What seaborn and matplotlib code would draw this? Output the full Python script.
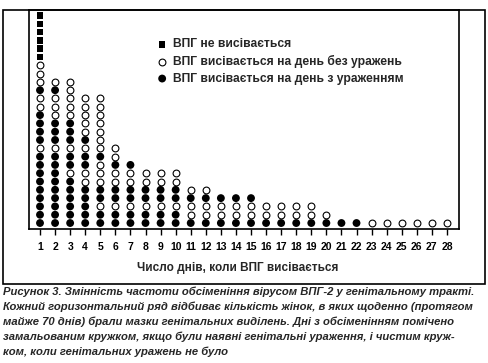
import matplotlib
matplotlib.use("Agg")
import matplotlib.pyplot as plt
import matplotlib.patches as patches
import pandas as pd
import seaborn as sns

W, H = 489, 363

DAYS = list(range(1, 29))
# stack of each day column, bottom -> top
# F = shedding on a day with lesions, O = shedding without lesions, S = not shedding
STACKS = [
    "FFFFFFFFFOFFFFOOFOOOSSSSSS",
    "FFFFFFFFFOFFFOOOFO",
    "FFFFFFOFFOFFFOOOOO",
    "FFFFFOOFFOFOOOOO",
    "FFOFFOOOFOOOOOOO",
    "FFOFFOOFOO",
    "FFOFFOOF",
    "FFOFFOO",
    "FFOFFOO",
    "FFOFFOO",
    "FOOFO",
    "FOOFO",
    "FOOF",
    "FOOF",
    "FOOF",
    "FOO",
    "FOO",
    "FOO",
    "FOO",
    "FO",
    "F",
    "F",
    "O", "O", "O", "O", "O", "O",
]
LABELS = {
    "S": "ВПГ не висівається",
    "O": "ВПГ висівається на день без уражень",
    "F": "ВПГ висівається на день з ураженням",
}
XLABEL = "Число днів, коли ВПГ висівається"
CAPTION = [
    "Рисунок 3. Змінність частоти обсіменіння вірусом ВПГ-2 у генітальному тракті.",
    "Кожний горизонтальний ряд відбиває кількість жінок, в яких щоденно (протягом",
    "майже 70 днів) брали мазки генітальних виділень. Дні з обсіменінням помічено",
    "замальованим кружком, якщо були наявні генітальні ураження, і чистим круж-",
    "ком, коли генітальних уражень не було",
]


def main():
    rows = []
    for day, stack in zip(DAYS, STACKS):
        for i, code in enumerate(stack):
            rows.append({"day": day, "row": i + 1, "status": code})
    df = pd.DataFrame(rows)

    sns.set_theme(style="white")
    plt.rcParams["font.family"] = ["Liberation Sans", "DejaVu Sans"]

    fig = plt.figure(figsize=(W / 100, H / 100), dpi=100)
    ax = fig.add_axes([29 / W, 1 - 229 / H, 430 / W, 219 / H])

    sns.scatterplot(data=df[df.status == "S"], x="day", y="row", ax=ax,
                    marker="s", s=22, color="black", edgecolor="none",
                    label=LABELS["S"])
    sns.scatterplot(data=df[df.status == "O"], x="day", y="row", ax=ax,
                    marker="o", s=24, facecolor="white", edgecolor="black",
                    linewidth=0.8, label=LABELS["O"])
    sns.scatterplot(data=df[df.status == "F"], x="day", y="row", ax=ax,
                    marker="o", s=32, color="black", edgecolor="none",
                    label=LABELS["F"])

    ax.set_xlim(0.27, 28.8)
    ax.set_ylim(0.28, 26.66)
    ax.set_xticks(DAYS)
    ax.set_xticklabels([str(d) for d in DAYS], fontsize=7.5, fontweight="bold")
    ax.set_yticks([])
    ax.set_xlabel("")
    ax.set_ylabel("")
    ax.tick_params(axis="x", direction="out", length=4, width=1, pad=5,
                   bottom=True, colors="black")
    for sp in ax.spines.values():
        sp.set_color("black")
        sp.set_linewidth(1.2)

    ax.legend(loc="upper left", bbox_to_anchor=(0.29, 0.892), frameon=False,
              handlelength=0.6, handletextpad=0.6, labelspacing=0.38,
              borderaxespad=0, prop={"size": 8.7, "weight": "bold"})

    fig.text(238 / W, 1 - 268 / H, XLABEL, ha="center", va="center",
             fontsize=8.5, fontweight="bold")

    fig.patches.append(patches.Rectangle((3 / W, 1 - 284 / H), 482 / W, 274 / H,
                                         transform=fig.transFigure, fill=False,
                                         edgecolor="black", linewidth=1.2))

    for i, line in enumerate(CAPTION):
        fig.text(3 / W, 1 - (292 + 15 * i) / H, line, ha="left", va="center",
                 fontsize=8.15, fontweight="bold", fontstyle="italic")

    fig.savefig("out.png", dpi=100)
    plt.close(fig)


if __name__ == "__main__":
    main()
